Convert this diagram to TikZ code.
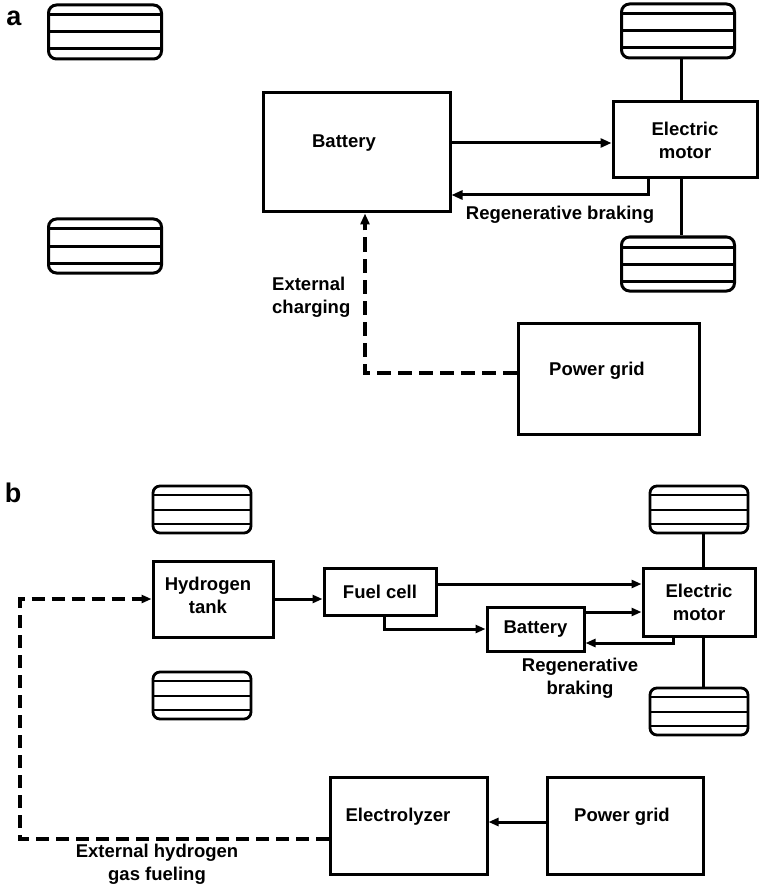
\documentclass[tikz,border=0pt]{standalone}
\usepackage{fontspec}
\setmainfont{Liberation Sans}
\usetikzlibrary{arrows.meta}
\begin{document}
\begin{tikzpicture}[x=1pt,y=-1pt,
  lab/.style={font=\fontsize{18.5}{23}\selectfont\bfseries, inner sep=0pt, align=center},
  panel/.style={font=\fontsize{27}{27}\selectfont\bfseries, inner sep=0pt},
  boxa/.style={draw, line width=3pt, inner sep=0pt, lab},
  boxb/.style={draw, line width=3pt, inner sep=0pt, lab},
  wheelA/.style={draw, line width=3pt, rounded corners=8pt, inner sep=0pt,
    minimum width=113pt, minimum height=54pt,
    path picture={\foreach \yy in {10,27,44}{\draw[line width=3pt]
      ([yshift=-\yy pt]path picture bounding box.north west) --
      ([yshift=-\yy pt]path picture bounding box.north east);}}},
  wheelB/.style={draw, line width=2.8pt, rounded corners=7pt, inner sep=0pt,
    minimum width=98pt, minimum height=47pt,
    path picture={\foreach \yy in {9,24,38}{\draw[line width=2.8pt]
      ([yshift=-\yy pt]path picture bounding box.north west) --
      ([yshift=-\yy pt]path picture bounding box.north east);}}},
  linea/.style={line width=3pt},
  lineb/.style={line width=3pt},
  conna/.style={line width=3pt, -{Triangle[length=11pt,width=9pt]}},
  connb/.style={line width=3pt, -{Triangle[length=10pt,width=8pt]}},
  dasha/.style={line width=4.2pt, dash pattern=on 14pt off 7pt, -{Triangle[length=11pt,width=9pt]}},
  dashb/.style={line width=3.6pt, dash pattern=on 13pt off 7pt, -{Triangle[length=10pt,width=8pt]}}
]
\useasboundingbox (0,0) rectangle (762,885);

% ---------------- panel a ----------------
\node[panel] (la) at (14,18) {a};
\node[wheelA] (wA1) at (105,32) {};
\node[wheelA] (wA2) at (105,246) {};
\node[wheelA] (wA3) at (678,31) {};
\node[wheelA] (wA4) at (678,264) {};

\node[boxa, minimum width=187pt, minimum height=119pt] (batA) at (356.5,152.5) {};
\node[lab] (batAt) at (344,143) {Battery};
\node[boxa, minimum width=144pt, minimum height=76pt] (motA) at (685,140) {Electric\\motor};
\node[boxa, minimum width=181pt, minimum height=111pt] (pgA) at (608.5,378.5) {};
\node[lab] (pgAt) at (597,371) {Power grid};

\draw[linea] ([xshift=-4pt]motA.north) -- ([xshift=-4pt]motA.north |- wA3.south);
\draw[linea] ([xshift=-4pt]motA.south) -- ([xshift=-4pt]motA.south |- wA4.north);

\draw[conna] ([yshift=-3pt]motA.west -| batA.east) -- ([yshift=-3pt]motA.west);
\draw[conna] ([xshift=-37pt]motA.south) |- ([yshift=-42.5pt]batA.east);
\draw[dasha] ([yshift=5.5pt]pgA.west) -| ([xshift=8.5pt]batA.south);

\node[lab] (regA) at (560,215) {Regenerative braking};
\node[lab, anchor=west, align=left] (extA) at (272,297) {External\\charging};

% ---------------- panel b ----------------
\node[panel] (lb) at (13,493) {b};
\node[wheelB] (wB1) at (202,509.5) {};
\node[wheelB] (wB2) at (202,695.5) {};
\node[wheelB] (wB3) at (699,509.5) {};
\node[wheelB] (wB4) at (699,711.5) {};

\node[boxb, minimum width=120pt, minimum height=76pt] (tank) at (213,599) {};
\node[lab] (tankt) at (208,595) {Hydrogen\\tank};
\node[boxb, minimum width=112pt, minimum height=47pt] (fuel) at (380,591.5) {Fuel cell};
\node[boxb, minimum width=112pt, minimum height=68pt] (motB) at (699,602) {Electric\\motor};
\node[boxb, minimum width=97pt, minimum height=44pt] (batB) at (535.5,629) {Battery};
\node[boxb, minimum width=157pt, minimum height=97pt] (elec) at (408.5,825.5) {};
\node[lab] (elect) at (398,817) {Electrolyzer};
\node[boxb, minimum width=156pt, minimum height=97pt] (pgB) at (625,825.5) {};
\node[lab] (pgBt) at (622,817) {Power grid};

\draw[lineb] ([xshift=4pt]motB.north) -- ([xshift=4pt]motB.north |- wB3.south);
\draw[lineb] ([xshift=4pt]motB.south) -- ([xshift=4pt]motB.south |- wB4.north);

\draw[connb] (tank.east) -- (tank.east -| fuel.west);
\draw[connb] ([yshift=7.5pt]fuel.east) -- ([yshift=7.5pt]fuel.east -| motB.west);
\draw[connb] ([xshift=4pt]fuel.south) |- (batB.west);
\draw[connb] ([yshift=17pt]batB.east) -- ([yshift=17pt]batB.east -| motB.west);
\draw[connb] ([xshift=-26pt]motB.south) |- ([yshift=-14pt]batB.east);
\draw[connb] ([yshift=3.5pt]pgB.west) -- ([yshift=3.5pt]pgB.west -| elec.east);
\coordinate (bend) at (20,599);
\draw[dashb] ([yshift=-13.5pt]elec.west) -| (bend) -- (tank.west);

\node[lab] (regB) at (580,678) {Regenerative\\braking};
\node[lab] (extB) at (157,864) {External hydrogen\\gas fueling};
\end{tikzpicture}
\end{document}
